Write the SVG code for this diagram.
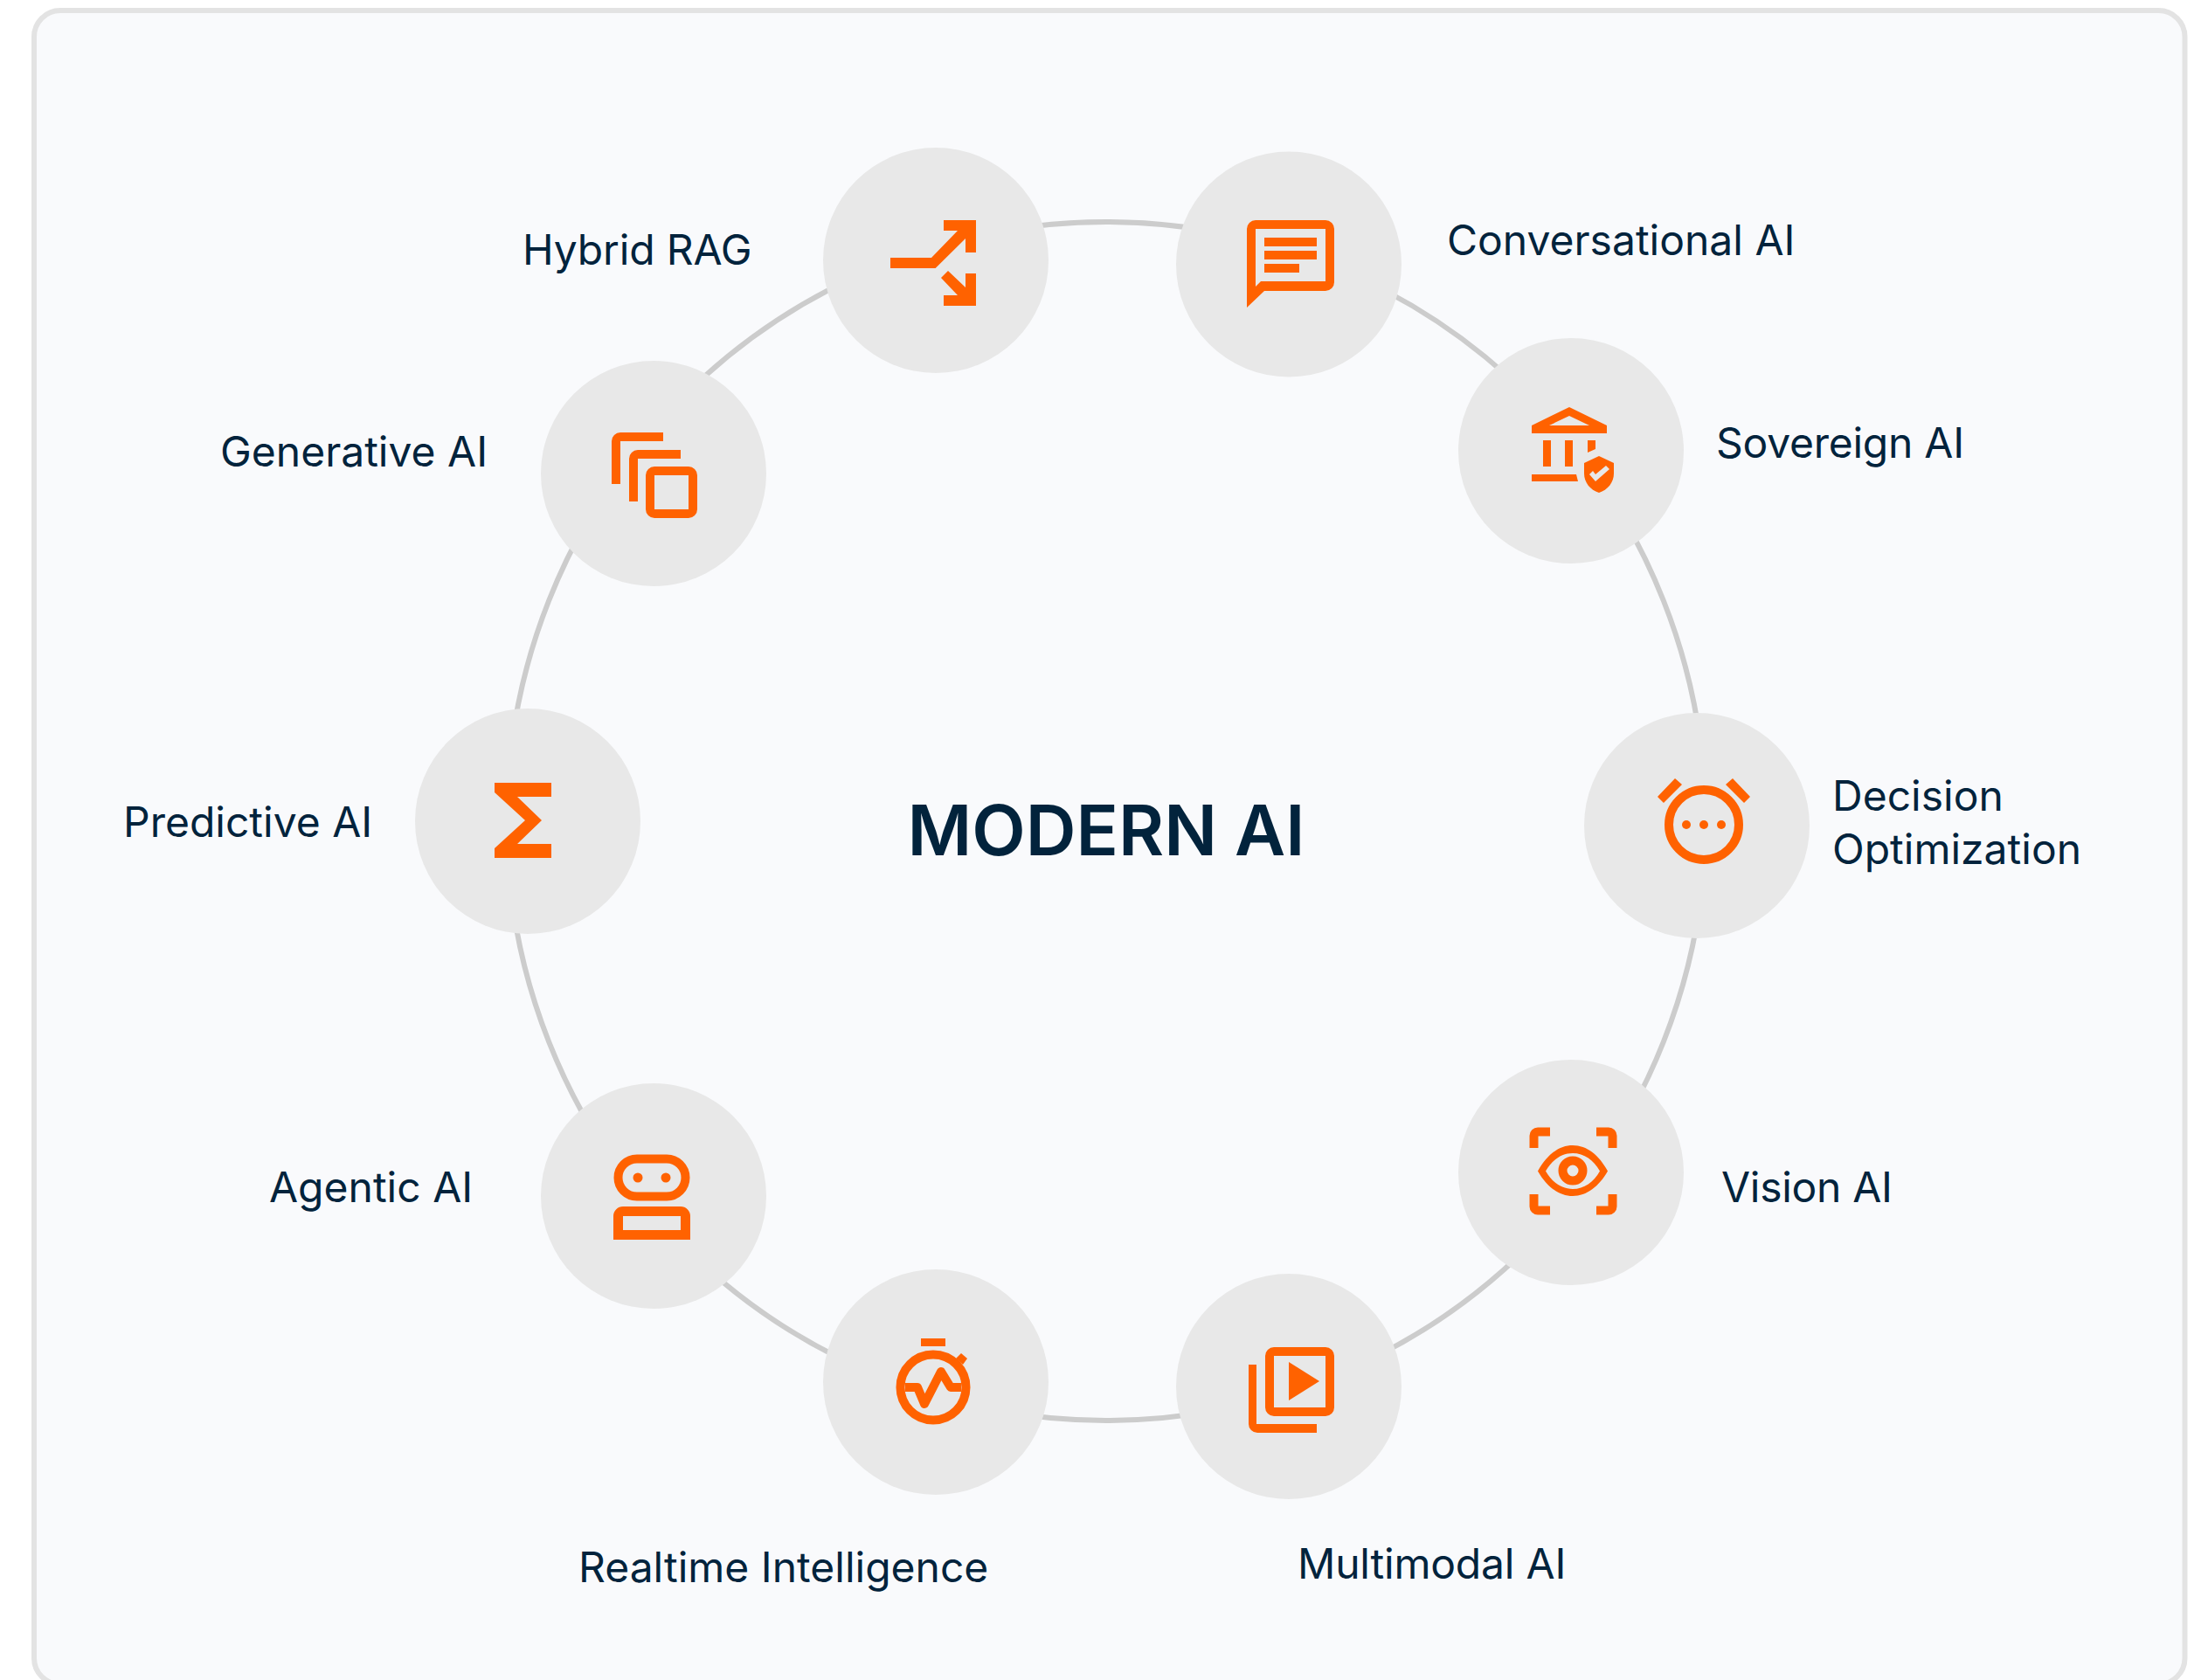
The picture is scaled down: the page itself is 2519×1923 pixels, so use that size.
<svg xmlns="http://www.w3.org/2000/svg" width="2519" height="1923" viewBox="0 0 2519 1923">
<style>
.n{fill:#e8e8e8}
.i{fill:#ff6200;fill-rule:evenodd}
.s{fill:none;stroke:#ff6200;stroke-width:10}
.l{font-family:Inter,"Liberation Sans",sans-serif;font-size:48px;fill:#02233c}
</style>
<rect width="2519" height="1923" fill="#fff"/>
<rect x="39" y="12" width="2461.500" height="1916" rx="30" fill="#f9fafc" stroke="#e3e3e3" stroke-width="6"/>
<g id="connectors"><circle cx="1266" cy="940" r="686" fill="none" stroke="#cccccc" stroke-width="6"/></g>
<text x="1266" y="979" text-anchor="middle" style="font-family:Inter,'Liberation Sans',sans-serif;font-size:80px;font-weight:600;fill:#02233c">MODERN AI</text>
<g id="hybrid-rag"><circle class="n" cx="1071" cy="298" r="129"/>
<path class="i" d="M1080,252H1117V289H1105V273L1070.6,307H1019V295H1066L1096,264H1080Z"/>
<path class="i" d="M1105,313H1117V350H1080V338H1096L1077,318L1085,310L1105,329Z"/>
<text class="l" x="598" y="303" letter-spacing="-0.150">Hybrid RAG</text></g>
<g id="conversational-ai"><circle class="n" cx="1475" cy="302.500" r="129"/>
<path class="i" d="M1437,252H1517A10,10 0 0 1 1527,262V323A10,10 0 0 1 1517,333H1447L1427,352V262A10,10 0 0 1 1437,252ZM1437,262V328L1443,322H1517V262ZM1447,272H1507V282H1447ZM1447,287H1507V297H1447ZM1447,302H1487V312H1447Z"/>
<text class="l" x="1656" y="292">Conversational AI</text></g>
<g id="sovereign-ai"><circle class="n" cx="1798" cy="516" r="129"/>
<path class="i" d="M1796,466L1839,487V496H1753V487ZM1796,476L1773,487H1819ZM1766,504H1775V534H1766ZM1791,504H1800V534H1791ZM1817,504H1826V514L1817,518ZM1753,543H1804L1806,551H1753Z"/>
<path class="i" d="M1830,522L1847,530V542C1847,552 1840,561 1830,564C1820,561 1813,552 1813,542V530ZM1819,543L1826,551L1842,537L1838,533L1826,543L1823,539Z"/>
<text class="l" x="1964" y="524" letter-spacing="-0.250">Sovereign AI</text></g>
<g id="decision-optimization"><circle class="n" cx="1942" cy="945" r="129"/>
<circle class="s" cx="1950" cy="944" r="40"/>
<path class="i" d="M1917,891L1925,898L1904,919L1897,912ZM1983,891L1975,898L1996,919L2003,912Z"/>
<circle class="i" cx="1930" cy="944" r="5"/><circle class="i" cx="1950" cy="944" r="5"/><circle class="i" cx="1970" cy="944" r="5"/>
<text class="l" x="2097" y="928">Decision</text><text class="l" x="2097" y="989">Optimization</text></g>
<g id="vision-ai"><circle class="n" cx="1798" cy="1342" r="129"/>
<path class="s" d="M1755.500,1314V1300A4.500,4.500 0 0 1 1760,1295.500H1774M1827,1295.500H1841A4.500,4.500 0 0 1 1845.500,1300V1314M1845.500,1367V1381A4.500,4.500 0 0 1 1841,1385.500H1827M1774,1385.500H1760A4.500,4.500 0 0 1 1755.500,1381V1367" stroke-width="9"/>
<path class="i" d="M1760,1340.500C1770,1322 1784,1311 1800,1311C1816,1311 1830,1322 1840,1340.500C1830,1358 1816,1369 1800,1369C1784,1369 1770,1358 1760,1340.500ZM1769,1340.500C1776,1353 1787,1361 1800,1361C1813,1361 1824,1353 1831,1340.500C1824,1328 1813,1320 1800,1320C1787,1320 1776,1328 1769,1340.500Z"/>
<circle class="s" cx="1800" cy="1340" r="11.500" stroke-width="9"/>
<text class="l" x="1970" y="1376" letter-spacing="-0.300">Vision AI</text></g>
<g id="multimodal-ai"><circle class="n" cx="1475" cy="1587" r="129"/>
<rect class="s" x="1453" y="1547" width="69" height="69" rx="5"/>
<path class="i" d="M1475,1559L1510,1581L1475,1603Z"/>
<path class="i" d="M1429,1562H1438V1630H1507V1640H1439A10,10 0 0 1 1429,1630Z"/>
<text class="l" x="1485" y="1807" letter-spacing="-0.200">Multimodal AI</text></g>
<g id="realtime-intelligence"><circle class="n" cx="1071" cy="1582" r="129"/>
<rect class="i" x="1054" y="1532" width="28" height="9"/>
<circle class="s" cx="1068" cy="1588" r="37.500" stroke-width="9.500"/>
<path class="i" d="M1100,1549L1107,1555L1102,1562L1094,1555Z"/>
<path class="s" d="M1036,1588H1050L1058,1607L1077,1570L1088,1588H1100" stroke-width="9.500" stroke-linejoin="round"/>
<text class="l" x="662" y="1811">Realtime Intelligence</text></g>
<g id="agentic-ai"><circle class="n" cx="748" cy="1369" r="129"/>
<rect class="s" x="707.500" y="1326.500" width="77" height="43" rx="21.500" stroke-width="11"/>
<circle class="i" cx="730" cy="1348" r="5.500"/><circle class="i" cx="762" cy="1348" r="5.500"/>
<path class="i" d="M702,1419V1392A11,11 0 0 1 713,1381H779A11,11 0 0 1 790,1392V1419ZM713,1392V1408H779V1392Z"/>
<text class="l" x="308" y="1376">Agentic AI</text></g>
<g id="predictive-ai"><circle class="n" cx="604" cy="940" r="129"/>
<path class="i" d="M566,896H631V912H592L620,939L592,966H631V982H566V971L601,939L566,907Z"/>
<text class="l" x="141" y="958">Predictive AI</text></g>
<g id="generative-ai"><circle class="n" cx="748" cy="542" r="129"/>
<path class="i" d="M710,495H759V505H710V554H700V505A10,10 0 0 1 710,495Z"/>
<path class="i" d="M730,515H779V525H730V574H720V525A10,10 0 0 1 730,515Z"/>
<rect class="s" x="744" y="539" width="49" height="49" rx="5"/>
<text class="l" x="252" y="534">Generative AI</text></g>
</svg>
